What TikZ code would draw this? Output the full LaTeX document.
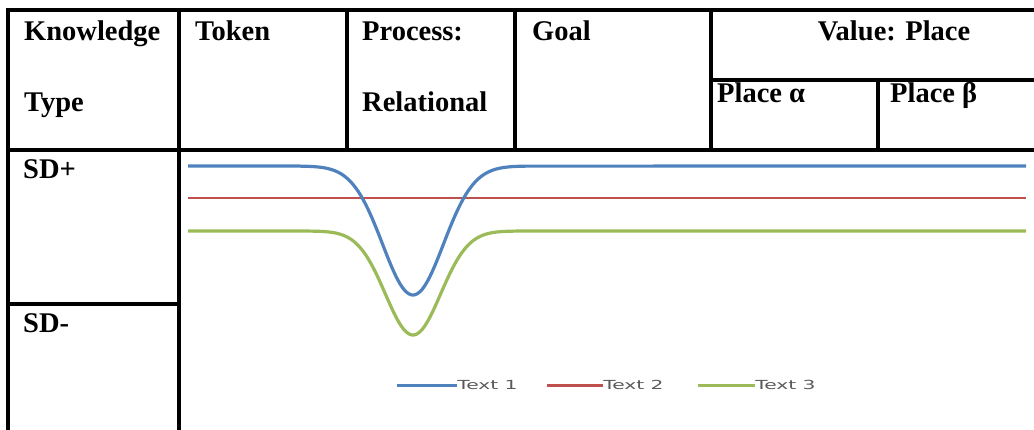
\documentclass[tikz,border=0pt]{standalone}
\usepackage{fontspec}
\setmainfont{Liberation Serif}
\newfontfamily\legendfont{DejaVu Sans}
\definecolor{lineblue}{HTML}{4F81BD}
\definecolor{linered}{HTML}{C0504D}
\definecolor{linegreen}{HTML}{9BBB59}
\definecolor{keygray}{HTML}{595959}
\begin{document}
\begin{tikzpicture}[x=1pt,y=-1pt,
  rule/.style={line width=3.4pt,line cap=rect},
  head/.style={anchor=base west,inner sep=0pt,font=\fontsize{28.5}{30}\selectfont\bfseries},
  key/.style={anchor=west,inner sep=0pt,text=keygray,font=\fontsize{12.5}{13}\legendfont,xscale=1.62}]
\useasboundingbox (0,0) rectangle (1034,429);

\draw [rule] (8,432) -- (8,10) -- (1040,10);
\draw [rule] (8,150) -- (1040,150);
\draw [rule] (179,10) -- (179,432);
\draw [rule] (347,10) -- (347,150);
\draw [rule] (515,10) -- (515,150);
\draw [rule] (711,10) -- (711,150);
\draw [rule] (711,80) -- (1040,80);
\draw [rule] (878,80) -- (878,150);
\draw [rule] (8,304) -- (179,304);

\node [head] (know) at (24,40) {Knowledge};
\node [head] (type) at (24,111) {Type};
\node [head] (token) at (195,40) {Token};
\node [head] (proc) at (362,40) {Process:};
\node [head] (rel) at (362,111) {Relational};
\node [head] (goal) at (532,40) {Goal};
\node [head, anchor=base] (value) at (894,40) {Value: Place};
\node [head] (alpha) at (717,102) {Place α};
\node [head] (beta) at (890,102) {Place β};
\node [head] (sdplus) at (23,178) {SD+};
\node [head] (sdminus) at (23,332) {SD-};

% curves
\draw [linered, line width=2.4pt] (188,198) -- (1026,198);
\draw [lineblue, line width=3.2pt, line join=round] (188,166) -- (300,166)
  -- plot [domain=300:526, samples=90, smooth] (\x, {166+129*exp(-((\x-413)/43)^2)})
  -- (1026,166);
\draw [linegreen, line width=3.2pt, line join=round] (188,231) -- (300,231)
  -- plot [domain=300:526, samples=90, smooth] (\x, {231+104*exp(-((\x-413)/39)^2)})
  -- (1026,231);

% legend
\node [key] (text1) at (457,385) {Text 1};
\node [key] (text2) at (603,385) {Text 2};
\node [key] (text3) at (755,385) {Text 3};
\draw [lineblue, line width=3pt] (text1.west) -- ++(-60,0);
\draw [linered, line width=3pt] (text2.west) -- ++(-56,0);
\draw [linegreen, line width=3pt] (text3.west) -- ++(-57,0);
\end{tikzpicture}
\end{document}
